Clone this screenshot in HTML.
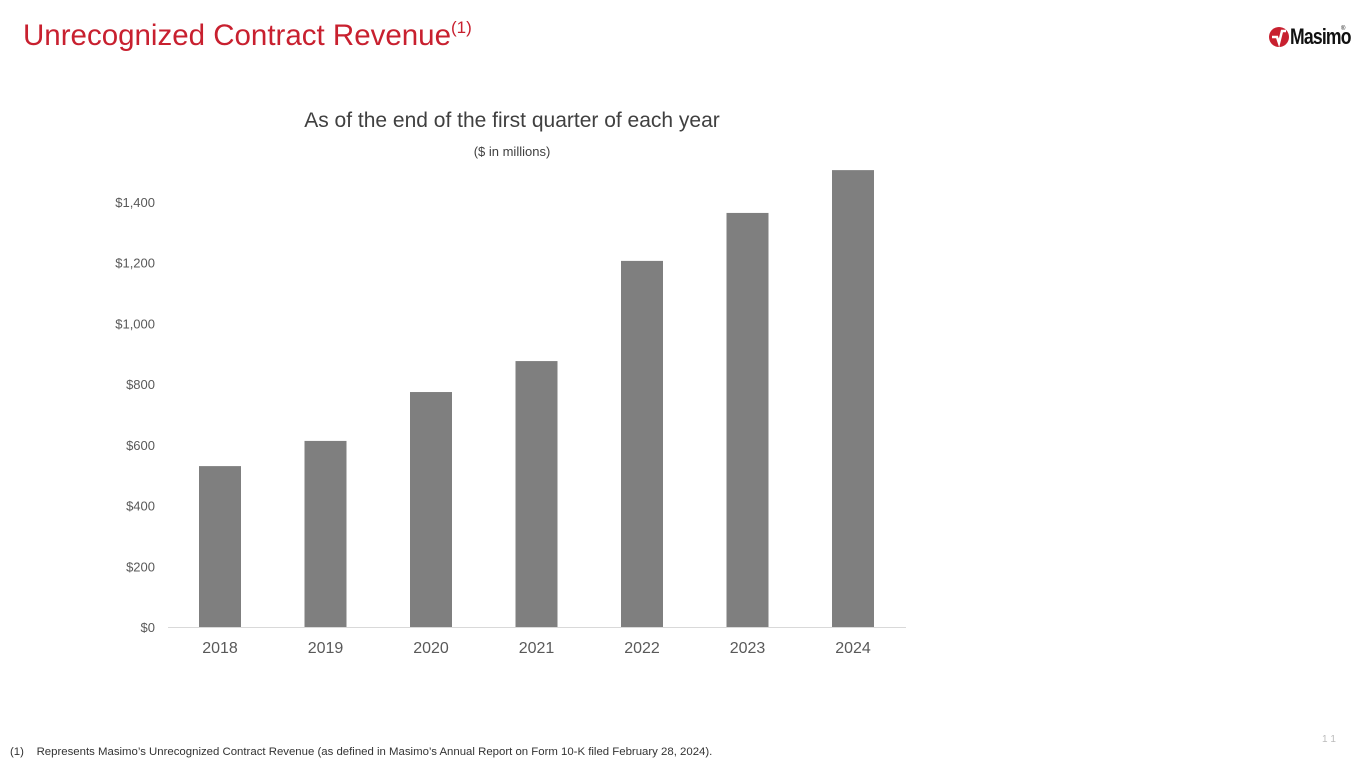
<!DOCTYPE html>
<html><head><meta charset="utf-8"><style>
body{margin:0;width:1365px;height:768px;background:#fff;position:relative;overflow:hidden;font-family:"Liberation Sans",Arial,sans-serif}
.t{position:absolute;white-space:nowrap}
</style></head><body>
<div class="t" style="left:23px;top:19px;font-size:29.5px;color:#c8202f">Unrecognized Contract Revenue<sup style="font-size:17px;vertical-align:top;position:relative;top:-1px">(1)</sup></div>
<div style="position:absolute;left:1268px;top:22px;width:80px;height:30px">
<svg width="22" height="24" viewBox="0 0 22 24" style="position:absolute;left:0;top:3px"><circle cx="11" cy="12" r="10" fill="#c8202f"/><path d="M4 12 L9 12 L11 18 L14 6 L18 6" stroke="#fff" stroke-width="2.5" fill="none"/></svg>
<span class="t" style="left:22px;top:2px;font-size:22px;font-weight:bold;color:#111;letter-spacing:-1px;transform:scaleX(0.8);transform-origin:left">Masimo</span>
<span class="t" style="left:73px;top:4px;font-size:6px;color:#111">®</span>
</div>
<div class="t" style="left:0;width:1024px;text-align:center;top:109px;font-size:21px;color:#404040">As of the end of the first quarter of each year</div>
<div class="t" style="left:0;width:1024px;text-align:center;top:144px;font-size:13px;color:#404040">($ in millions)</div>
<svg id="chart" width="1365" height="768" style="position:absolute;left:0;top:0"></svg>
<div class="t" style="left:10px;top:746px;font-size:11.4px;color:#333">(1)&nbsp;&nbsp;&nbsp;&nbsp;Represents Masimo’s Unrecognized Contract Revenue (as defined in Masimo’s Annual Report on Form 10-K filed February 28, 2024).</div>
<div class="t" style="left:1322px;top:734px;font-size:10px;color:#bbb">1 1</div>
<script>
const categories=["2018","2019","2020","2021","2022","2023","2024"];
const values=[530,613,774,876,1206,1364,1505];
const ticks=[0,200,400,600,800,1000,1200,1400];
const tickLabels=["$0","$200","$400","$600","$800","$1,000","$1,200","$1,400"];
const svg=document.getElementById('chart');const NS="http://www.w3.org/2000/svg";
const y0=627,pxPer=425/1400;
const y=v=>y0-v*pxPer;
const x=i=>220+i*105.5;
function mk(t,a){const e=document.createElementNS(NS,t);for(const k in a)e.setAttribute(k,a[k]);svg.appendChild(e);return e;}
ticks.forEach((t,i)=>{const e=mk('text',{x:155,y:y(t)+5,'text-anchor':'end','font-size':'13','fill':'#595959','font-family':'Liberation Sans, sans-serif'});e.textContent=tickLabels[i];

});
values.forEach((v,i)=>{const r=mk('rect',{x:x(i)-21,y:y(v),width:42,height:v*pxPer,fill:'#7f7f7f'});


const t=mk('text',{x:x(i),y:653,'text-anchor':'middle','font-size':'16','fill':'#595959','font-family':'Liberation Sans, sans-serif'});t.textContent=categories[i];

});
const ax=mk('line',{x1:168,x2:906,y1:y0+0.5,y2:y0+0.5,stroke:'#d9d9d9','stroke-width':1});


</script>
</body></html>
